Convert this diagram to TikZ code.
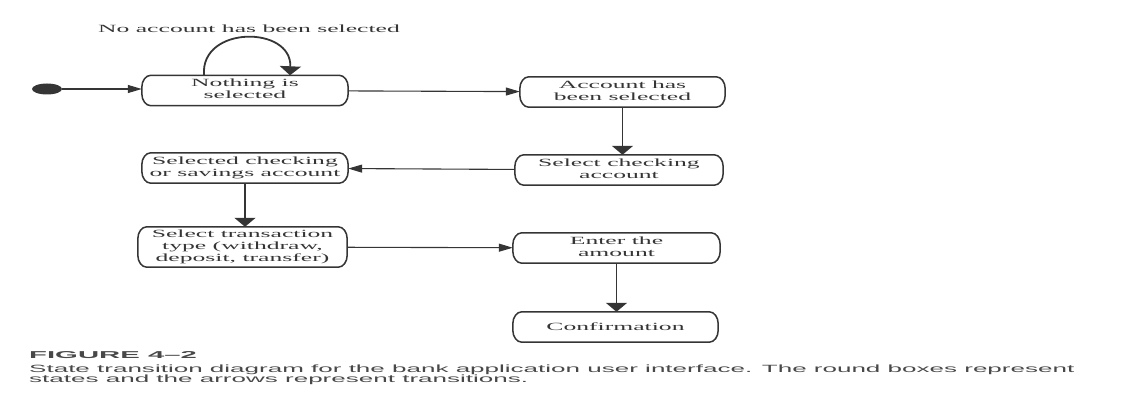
\documentclass[tikz,border=0pt]{standalone}
\usepackage{fontspec}
\setmainfont{Liberation Serif}
\newfontfamily\capfont{Liberation Sans}
\usetikzlibrary{arrows.meta,shapes.geometric}

\definecolor{ink}{HTML}{353535}
\definecolor{captionink}{HTML}{484848}

% wide-set serif text used in the state boxes
\newcommand\wide[1]{\scalebox{2.33}[1]{#1}}
\newcommand\stacked[1]{\raisebox{-1pt}{\wide{\begin{tabular}{@{}c@{}}#1\end{tabular}}}}

% outline of a state box with elliptical corners
\newcommand\stateoutline[1]{%
  \draw[boxline] ([xshift=9pt]#1.north west) -- ([xshift=-9pt]#1.north east)
    arc[start angle=90, end angle=0, x radius=9pt, y radius=12pt]
    -- ([yshift=12pt]#1.south east)
    arc[start angle=0, end angle=-90, x radius=9pt, y radius=12pt]
    -- ([xshift=9pt]#1.south west)
    arc[start angle=-90, end angle=-180, x radius=9pt, y radius=12pt]
    -- ([yshift=-12pt]#1.north west)
    arc[start angle=180, end angle=90, x radius=9pt, y radius=12pt] -- cycle;}

\tikzset{
  state/.style={rectangle, inner sep=0pt, minimum height=30pt, text=ink,
    font=\fontsize{11}{12}\selectfont},
  boxline/.style={draw=ink, line width=1.5pt},
  harrow/.style={draw=ink, line width=1.1pt, -{Triangle[length=14pt,width=8pt]}},
  varrow/.style={draw=ink, line width=1.8pt, -{Triangle[length=9pt,width=21pt]}},
  note/.style={inner sep=0pt, text=ink, font=\fontsize{11}{12}\selectfont},
  captext/.style={anchor=base west, inner sep=0pt, text=captionink},
}

\begin{document}
\begin{tikzpicture}[x=1pt, y=-1pt]
\useasboundingbox (0,0) rectangle (1141,396);

% initial state
\node[ellipse, fill=ink, inner sep=0pt, minimum width=30pt, minimum height=11pt] (start) at (47,89) {};

% states
\node[state, minimum width=206pt] (none) at (245,90.5) {\stacked{Nothing is\\selected}};
\node[state, minimum width=205pt] (chosen) at (622.5,92) {\stacked{Account has\\been selected}};
\node[state, minimum width=208pt] (checking) at (619,170) {\stacked{Select checking\\account}};
\node[state, minimum width=206pt] (either) at (245,168) {\stacked{Selected checking\\or savings account}};
\node[state, minimum width=209pt, minimum height=40pt] (txtype) at (242.5,247)
  {\stacked{Select transaction\\type (withdraw,\\deposit, transfer)}};
\node[state, minimum width=207pt] (amount) at (616.5,248) {\stacked{Enter the\\amount}};
\node[state, minimum width=205pt] (confirm) at (615.5,327) {\wide{Confirmation}};

\foreach \s in {none,chosen,checking,either,txtype,amount,confirm} {\stateoutline{\s}}

% self transition and its label
\draw[varrow] ([xshift=-41pt]none.north) .. controls +(-4,-50) and +(2,-50) .. ([xshift=45pt]none.north);
\node[note] (loopnote) at (249,29) {\wide{No account has been selected}};

% transitions
\draw[harrow] (start.east) -- (start.east -| none.west);
\draw[harrow] (none) -- (chosen);
\draw[varrow] (chosen.south) -- (chosen.south |- checking.north);
\draw[harrow] (checking) -- (either);
\draw[varrow] (either.south) -- (either.south |- txtype.north);
\draw[harrow] (txtype) -- (amount);
\draw[varrow] (amount.south) -- (amount.south |- confirm.north);

% caption
\node[captext] (figno) at (29,358.5)
  {\scalebox{2.93}[1]{\capfont\bfseries\fontsize{10}{12}\selectfont FIGURE 4–2}};
\node[captext] (capone) at (29,372.5)
  {\scalebox{2.478}[1]{\capfont\fontsize{10.5}{12}\selectfont State transition diagram for the bank application user interface. The round boxes represent}};
\node[captext] (captwo) at (29,382.5)
  {\scalebox{2.478}[1]{\capfont\fontsize{10.5}{12}\selectfont states and the arrows represent transitions.}};
\end{tikzpicture}
\end{document}
